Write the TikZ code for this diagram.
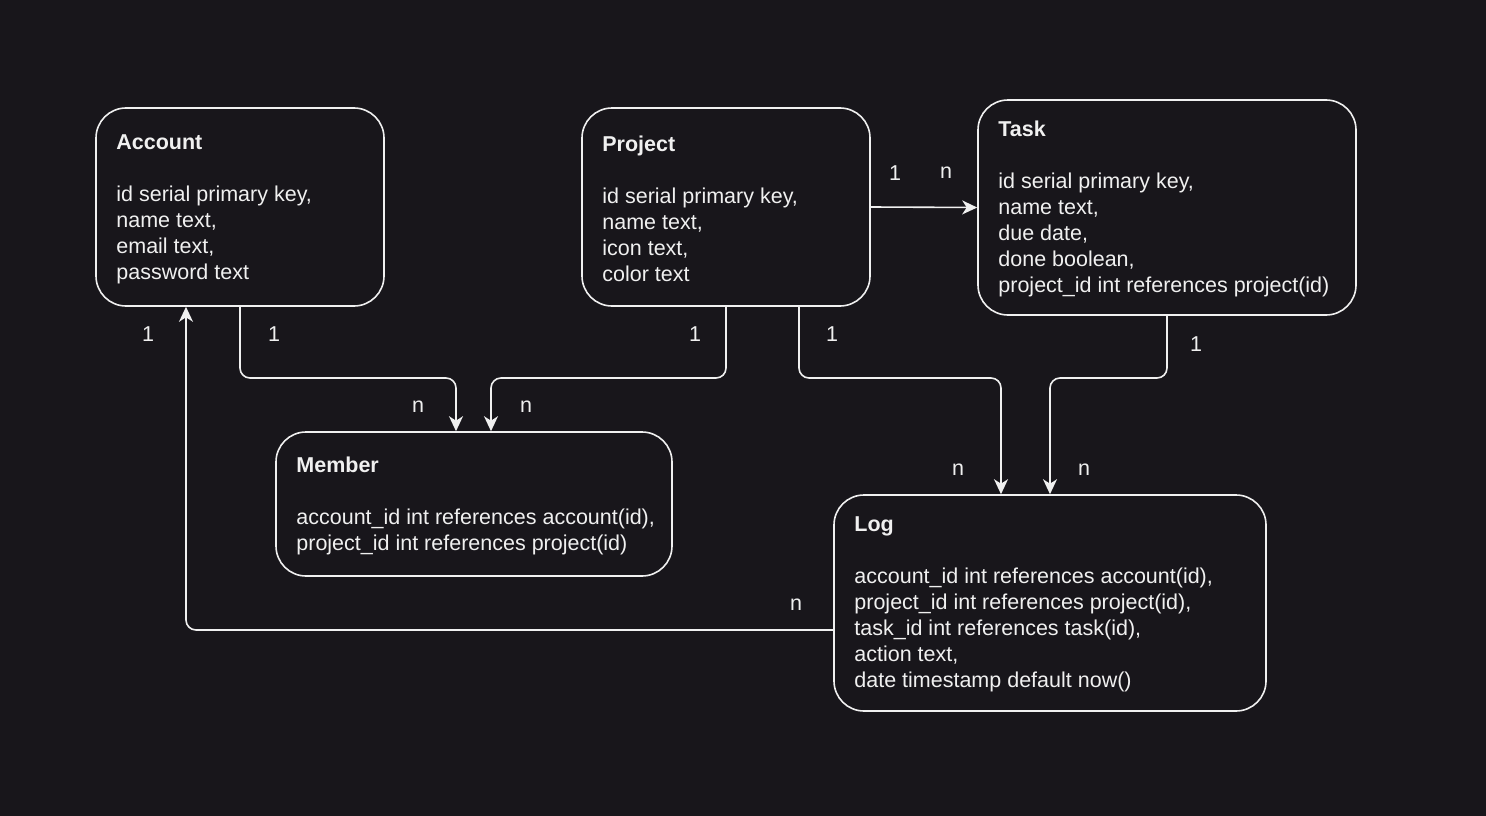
\documentclass[tikz,border=0pt]{standalone}
\usepackage{fontspec}
\setmainfont{Liberation Sans}
\usetikzlibrary{arrows.meta}
\definecolor{bg}{RGB}{24,22,27}
\definecolor{fg}{RGB}{240,240,240}
\begin{document}
\begin{tikzpicture}[x=1pt,y=-1pt,
  font=\fontsize{21.5}{26}\selectfont,
  entity/.style={draw=fg, line width=1.6pt, rounded corners=30pt, fill=bg, inner sep=0pt},
  body/.style={text=fg, align=left, inner sep=0pt, anchor=west},
  conn/.style={draw=fg, line width=1.6pt, rounded corners=10pt, -{Stealth[length=15pt,width=14pt,inset=4.5pt]}},
  lbl/.style={text=fg, inner sep=0pt}]
\fill[bg] (0,0) rectangle (1486,816);
\useasboundingbox (0,0) rectangle (1486,816);

% entities
\node[entity, minimum width=288pt, minimum height=198pt] (account) at (240,207) {};
\node[body] (accountT) at ([xshift=21pt,yshift=-2pt]account.west) {\textbf{Account}\\[26pt]id serial primary key,\\name text,\\email text,\\password text};

\node[entity, minimum width=288pt, minimum height=198pt] (project) at (726,207) {};
\node[body] (projectT) at ([xshift=21pt,yshift=-2pt]project.west) {\textbf{Project}\\[26pt]id serial primary key,\\name text,\\icon text,\\color text};

\node[entity, minimum width=378pt, minimum height=215pt] (task) at (1167,207.5) {};
\node[body] (taskT) at ([xshift=21pt,yshift=-1pt]task.west) {\textbf{Task}\\[26pt]id serial primary key,\\name text,\\due date,\\done boolean,\\project\_id int references project(id)};

\node[entity, minimum width=396pt, minimum height=144pt] (member) at (474,504) {};
\node[body] (memberT) at ([xshift=21pt,yshift=-1.5pt]member.west) {\textbf{Member}\\[26pt]account\_id int references account(id),\\project\_id int references project(id)};

\node[entity, minimum width=432pt, minimum height=216pt] (log) at (1050,603) {};
\node[body] (logT) at ([xshift=21pt,yshift=-1.5pt]log.west) {\textbf{Log}\\[26pt]account\_id int references account(id),\\project\_id int references project(id),\\task\_id int references task(id),\\action text,\\date timestamp default now()};

% connectors
\draw[conn] (project.east) -- (task.west);
\draw[conn] (account.south) -- (240,378) -- (456,378) -- (member.north -| 456,0);
\draw[conn] (project.south) -- (726,378) -- (491,378) -- (member.north -| 491,0);
\draw[conn] (project.south -| 799,0) -- (799,378) -- (1001,378) -- (log.north -| 1001,0);
\draw[conn] (task.south) -- (1167,378) -- (1050,378) -- (log.north);
\draw[conn] (log.west |- 0,630) -- (186,630) -- (account.south -| 186,0);

% labels
\node[lbl] (pt1) at (895,173) {1};
\node[lbl] (ptn) at (946,173) {n};
\node[lbl] (am1) at (274,334) {1};
\node[lbl] (amn) at (418,407) {n};
\node[lbl] (pm1) at (695,334) {1};
\node[lbl] (pmn) at (526,407) {n};
\node[lbl] (pl1) at (832,334) {1};
\node[lbl] (pln) at (958,470) {n};
\node[lbl] (tl1) at (1196,344) {1};
\node[lbl] (tln) at (1084,470) {n};
\node[lbl] (lan) at (796,605) {n};
\node[lbl] (la1) at (148,334) {1};
\end{tikzpicture}
\end{document}
